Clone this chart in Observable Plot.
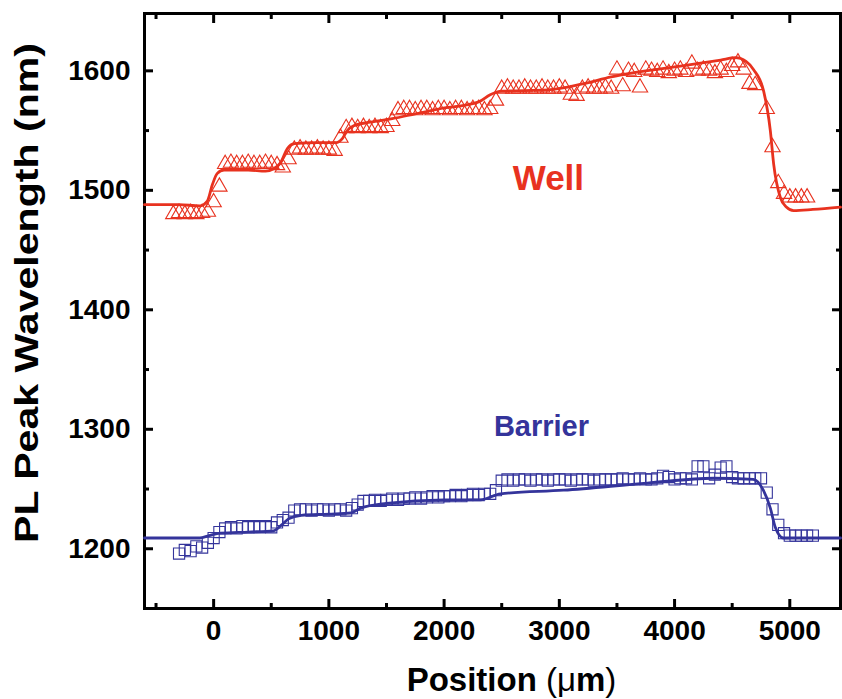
<!DOCTYPE html>
<html>
<head>
<meta charset="utf-8">
<script src="https://cdn.jsdelivr.net/npm/d3@7"></script>
<script src="https://cdn.jsdelivr.net/npm/@observablehq/plot@0.6"></script>
<style>
  html, body { margin: 0; padding: 0; background: #fff; }
  #chart { width: 842px; height: 699px; overflow: hidden; }
</style>
</head>
<body>
<div id="chart"></div>
<script>
// PL peak wavelength along the position scan: measured points (50 µm step) and fitted profiles.

// Well emission: measured [position µm, wavelength nm]
const wellPoints = [
  [-350,1480],[-300,1481],[-250,1480],[-200,1481],[-150,1480],[-100,1481],[-50,1482],[0,1490],[50,1503],
  [100,1522],[150,1523],[200,1522],[250,1522],[300,1523],[350,1522],[400,1522],[450,1523],[500,1522],[550,1521],
  [600,1519],[650,1526],
  [700,1534],[750,1535],[800,1534],[850,1534],[900,1535],[950,1534],[1000,1534],[1050,1533],
  [1100,1544],
  [1150,1552],[1200,1553],[1250,1552],[1300,1553],[1350,1552],[1400,1553],[1450,1552],[1500,1553],
  [1550,1558],
  [1600,1567],[1650,1568],[1700,1568],[1750,1567],[1800,1568],[1850,1568],[1900,1567],[1950,1568],[2000,1568],
  [2050,1567],[2100,1568],[2150,1568],[2200,1567],[2250,1568],[2300,1568],[2350,1567],[2400,1568],
  [2450,1575],
  [2500,1585],[2550,1586],[2600,1585],[2650,1585],[2700,1586],[2750,1585],[2800,1585],[2850,1586],[2900,1585],[2950,1585],
  [3000,1586],[3050,1585],[3100,1580],[3150,1579],[3200,1585],[3250,1586],[3300,1585],[3350,1585],[3400,1586],[3450,1585],
  [3500,1601],[3550,1587],[3600,1600],[3650,1599],[3700,1586],[3750,1601],[3800,1600],[3850,1599],[3900,1601],[3950,1598],
  [4000,1600],[4050,1601],[4100,1599],[4150,1606],[4200,1600],[4250,1601],[4300,1600],[4350,1598],[4400,1601],[4450,1599],
  [4500,1604],[4550,1607],[4600,1601],[4650,1589],[4700,1588],
  [4800,1568],[4850,1536],[4900,1506],[4950,1497],[5000,1494],[5050,1494],[5100,1494],[5150,1494]
];

// Well emission: fitted profile
const wellFit = [
  [-600,1488],[-300,1488],[-120,1487],[-55,1491],[-10,1505],[30,1514],[90,1517],[300,1517],[450,1516],
  [520,1518],[580,1523],[640,1535],[700,1539],[900,1540],[1070,1540],[1115,1543],[1160,1550],[1215,1554],
  [1360,1557],[1550,1560],[1750,1564],[1950,1568],[2300,1574],[2400,1580],[2500,1583],[2900,1584],
  [3200,1589],[3450,1595],[4050,1604],[4400,1609],[4530,1611],[4620,1608],[4686,1601],[4773,1583],
  [4831,1550],[4860,1522],[4918,1494],[4970,1486],[5033,1483],[5200,1484],[5440,1486]
];

// Barrier emission: measured [position µm, wavelength nm]
const barrierPoints = [
  [-300,1196],[-250,1199],[-200,1198],[-150,1202],[-100,1201],[-50,1205],[0,1209],[50,1214],
  [100,1217],[150,1218],[200,1217],[250,1219],[300,1218],[350,1219],[400,1218],[450,1219],[500,1218],
  [550,1222],[600,1224],[650,1226],
  [700,1232],[750,1233],[800,1233],[850,1232],[900,1233],[950,1233],[1000,1232],[1050,1233],[1100,1233],[1150,1232],[1200,1234],
  [1250,1237],
  [1300,1240],[1350,1240],[1400,1241],[1450,1240],[1500,1241],[1550,1242],[1600,1241],[1650,1242],[1700,1242],[1750,1243],
  [1800,1242],[1850,1243],[1900,1244],[1950,1243],[2000,1244],[2050,1244],[2100,1245],[2150,1244],[2200,1245],[2250,1246],
  [2300,1245],[2350,1246],[2400,1246],
  [2450,1249],
  [2500,1257],[2550,1258],[2600,1257],[2650,1258],[2700,1258],[2750,1257],[2800,1258],[2850,1258],[2900,1257],[2950,1258],
  [3000,1258],[3050,1258],[3100,1257],[3150,1258],[3200,1258],[3250,1258],[3300,1257],[3350,1258],[3400,1258],[3450,1258],
  [3500,1258],[3550,1259],[3600,1258],[3650,1258],[3700,1259],[3750,1258],[3800,1258],[3850,1259],[3900,1261],[3950,1260],
  [4000,1258],[4050,1259],[4100,1259],[4150,1258],
  [4200,1269],[4250,1269],[4300,1259],[4350,1262],[4400,1268],[4450,1269],[4500,1260],
  [4550,1259],[4600,1259],[4650,1259],[4700,1259],[4750,1259],
  [4800,1247],[4850,1233],[4900,1220],[4950,1213],[5000,1211],[5050,1211],[5100,1211],[5150,1211],[5200,1211]
];

// Barrier emission: fitted profile
const barrierFit = [
  [-600,1209],[-120,1209],[-40,1211],[60,1213],[300,1214],[520,1215],[590,1220],[650,1225],[760,1228],
  [1000,1229],[1190,1230],[1275,1234],[1500,1238],[2000,1241],[2316,1241],[2489,1246],[3036,1249],
  [3764,1255],[4337,1259],[4683,1258],[4770,1249],[4831,1234],[4874,1218],[4944,1209],[5440,1209]
];

// Tick values
const xMajor = [0, 1000, 2000, 3000, 4000, 5000];
const xMinor = [-500, 500, 1500, 2500, 3500, 4500];
const yMajor = [1200, 1300, 1400, 1500, 1600];
const yMinor = [1250, 1350, 1450, 1550];

const xTitle = "Position (μm)";
const yTitle = "PL Peak Wavelength (nm)";
const seriesNames = ["Well", "Barrier"];

const red = "#e8321f";
const blue = "#34349b";

const toRows = (arr) => arr.map(([x, y]) => ({x, y}));

const plain = (d) => String(d);
const tickFont = {fontSize: 28, fontWeight: "bold", tickFormat: plain};
const tickStyle = {fill: "none", strokeWidth: 3, label: null};

const chart = Plot.plot({
  width: 842,
  height: 699,
  marginLeft: 144,
  marginRight: 2,
  marginTop: 13,
  marginBottom: 91,
  style: {fontFamily: "Liberation Sans, Arial, Helvetica, sans-serif", background: "white", color: "black"},
  x: {domain: [-600, 5440], axis: null},
  y: {domain: [1150, 1648], axis: null},
  marks: [
    // tick labels
    Plot.axisX(xMajor, {anchor: "bottom", tickSize: 0, tickPadding: 12, ...tickFont, label: null}),
    Plot.axisY(yMajor, {anchor: "left", tickSize: 0, tickPadding: 14, ...tickFont, label: null}),
    // inward ticks on all four sides
    Plot.axisX(xMajor, {anchor: "bottom", tickSize: -9, ...tickStyle}),
    Plot.axisX(xMinor, {anchor: "bottom", tickSize: -5, ...tickStyle}),
    Plot.axisX(xMajor, {anchor: "top", tickSize: -9, ...tickStyle}),
    Plot.axisX(xMinor, {anchor: "top", tickSize: -5, ...tickStyle}),
    Plot.axisY(yMajor, {anchor: "left", tickSize: -9, ...tickStyle}),
    Plot.axisY(yMinor, {anchor: "left", tickSize: -5, ...tickStyle}),
    Plot.axisY(yMajor, {anchor: "right", tickSize: -9, ...tickStyle}),
    Plot.axisY(yMinor, {anchor: "right", tickSize: -5, ...tickStyle}),
    Plot.frame({stroke: "black", strokeWidth: 3}),

    // fitted profiles
    Plot.line(toRows(wellFit), {x: "x", y: "y", curve: "monotone-x", stroke: red, strokeWidth: 2.8}),
    Plot.line(toRows(barrierFit), {x: "x", y: "y", curve: "monotone-x", stroke: blue, strokeWidth: 2.8}),

    // measured points
    Plot.dot(toRows(wellPoints), {x: "x", y: "y", symbol: "triangle", r: 5.7, stroke: red, fill: "none", strokeWidth: 1.1}),
    Plot.dot(toRows(barrierPoints), {x: "x", y: "y", symbol: "square", r: 6.3, stroke: blue, fill: "none", strokeWidth: 1.1}),

    // series labels
    Plot.text([seriesNames[0]], {x: 2905, y: 1510, text: d => d, fill: red, fontSize: 35, fontWeight: "bold", lineAnchor: "middle"}),
    Plot.text([seriesNames[1]], {x: 2845, y: 1302, text: d => d, fill: blue, fontSize: 29, fontWeight: "bold", lineAnchor: "middle"}),

    // axis titles
    Plot.text([xTitle], {frameAnchor: "bottom", dx: 19, dy: 72, text: d => d, fontSize: 33, fontWeight: "bold", lineAnchor: "middle"}),
    Plot.text([yTitle], {frameAnchor: "left", dx: -117, dy: 232, rotate: -90, text: d => d, textAnchor: "start", fontSize: 33, fontWeight: "bold", lineAnchor: "middle"})
  ]
});

const svg = d3.select(chart);

// stretch the vertical title along the axis
svg.selectAll("text").filter(function () { return this.textContent === yTitle; })
  .attr("textLength", 500).attr("lengthAdjust", "spacingAndGlyphs");

// set the unit of the horizontal title with light parentheses and a light mu
svg.selectAll("text").filter(function () { return this.textContent === xTitle; })
  .each(function () {
    const t = d3.select(this);
    const [name, unit] = xTitle.split(" ");
    t.text(name + " ");
    const parts = [[unit[0], "normal"], [unit[1], "normal"], [unit.slice(2, -1), "bold"], [unit.slice(-1), "normal"]];
    for (const [s, w] of parts) t.append("tspan").attr("font-weight", w).text(s);
  });

document.getElementById("chart").appendChild(chart);
</script>
</body>
</html>
